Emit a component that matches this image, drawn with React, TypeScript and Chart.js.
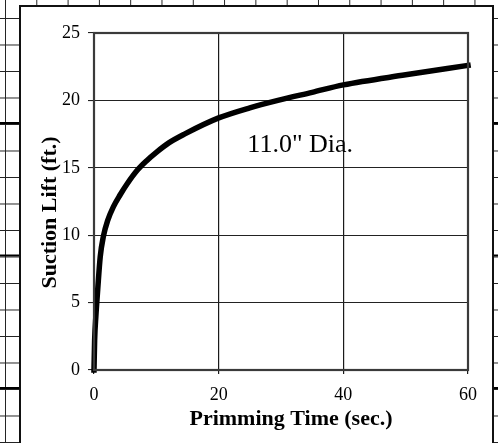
import React, { useEffect, useRef } from "react";
import { Chart, registerables } from "chart.js";

Chart.register(...registerables);

// ---- data ----
const primingTime: number[] = [0, 0.1, 0.3, 0.6, 1.0, 1.5, 2.2, 3.1, 4.2, 5.3, 7, 8.5, 10, 12, 14.5, 20, 25, 29.5, 35, 40, 50, 60];
const suctionLift: number[] = [0, 2.2, 4.0, 6.0, 8.4, 9.9, 11.1, 12.1, 13.0, 13.8, 14.85, 15.55, 16.15, 16.85, 17.5, 18.7, 19.45, 20, 20.6, 21.15, 21.9, 22.6];

const xTickValues: number[] = [0, 20, 40, 60];
const yTickValues: number[] = [0, 5, 10, 15, 20, 25];

const xTitle = "Primming Time (sec.)";
const yTitle = "Suction Lift (ft.)";
const annotationText = "11.0\" Dia.";
const annotationAt = { x: 24.6, y: 16.15 };

const FONT = "'Liberation Serif', 'Times New Roman', serif";

const decorPlugin = {
  id: "decor",
  afterDraw(chart: any) {
    const { ctx, chartArea, scales } = chart;
    const { left, right, top, bottom } = chartArea;
    ctx.save();
    // plot border
    ctx.strokeStyle = "#3a3a3a";
    ctx.lineWidth = 2.2;
    ctx.strokeRect(left, top, right - left, bottom - top);

    ctx.fillStyle = "#000";
    // x title
    ctx.font = `bold 22px ${FONT}`;
    ctx.textAlign = "center";
    ctx.textBaseline = "alphabetic";
    ctx.fillText(xTitle, (left + right) / 2 + 10, bottom + 55);
    // y title
    ctx.save();
    ctx.translate(left - 38, (top + bottom) / 2 + 11);
    ctx.rotate(-Math.PI / 2);
    ctx.fillText(yTitle, 0, 0);
    ctx.restore();
    // annotation
    ctx.font = `26px ${FONT}`;
    ctx.textAlign = "left";
    ctx.fillText(
      annotationText,
      scales.x.getPixelForValue(annotationAt.x),
      scales.y.getPixelForValue(annotationAt.y)
    );
    ctx.restore();
  },
};

export default function App() {
  const canvasRef = useRef<HTMLCanvasElement | null>(null);

  useEffect(() => {
    if (!canvasRef.current) return;
    const chart = new Chart(canvasRef.current, {
      type: "line",
      data: {
        datasets: [
          {
            data: primingTime.map((t, i) => ({ x: t, y: suctionLift[i] })),
            borderColor: "#000",
            borderWidth: 5.5,
            pointRadius: 0,
            cubicInterpolationMode: "monotone",
            borderCapStyle: "square",
            borderJoinStyle: "round",
            clip: false,
          } as any,
        ],
      },
      options: {
        animation: false,
        responsive: false,
        devicePixelRatio: 1,
        layout: { padding: { top: 33, right: 30, left: 0, bottom: 0 } },
        plugins: { legend: { display: false }, tooltip: { enabled: false } },
        scales: {
          x: {
            type: "linear",
            min: 0,
            max: 60,
            afterBuildTicks: (s: any) => {
              s.ticks = xTickValues.map((v) => ({ value: v }));
            },
            afterFit: (s: any) => {
              s.height = 73;
            },
            ticks: { font: { family: FONT, size: 18 }, color: "#000", padding: 10, maxRotation: 0 },
            grid: { color: "#1a1a1a", lineWidth: 1.2, tickLength: 4 },
            border: { display: false },
          },
          y: {
            type: "linear",
            min: 0,
            max: 25,
            afterBuildTicks: (s: any) => {
              s.ticks = yTickValues.map((v) => ({ value: v }));
            },
            afterFit: (s: any) => {
              s.width = 94;
            },
            ticks: { font: { family: FONT, size: 18 }, color: "#000", padding: 8 },
            grid: { color: "#222", lineWidth: 1.1, tickLength: 6 },
            border: { display: false },
          },
        },
      },
      plugins: [decorPlugin],
    });
    return () => chart.destroy();
  }, []);

  const paper: React.CSSProperties = {
    position: "fixed",
    left: 0,
    top: 0,
    width: 498,
    height: 443,
    overflow: "hidden",
    backgroundColor: "#fff",
    backgroundImage: [
      "linear-gradient(to bottom, #000 0px, #000 2px, transparent 2px, transparent 100%)",
      "linear-gradient(to right, #222 0px, #222 1px, transparent 1px, transparent 100%)",
      "linear-gradient(to bottom, #222 0px, #222 1px, transparent 1px, transparent 100%)",
    ].join(","),
    backgroundSize: "100% 132.5px, 31.3px 100%, 100% 26.5px",
    backgroundPosition: "0px 122px, 5px 0px, 0px 18px",
    backgroundRepeat: "repeat",
  };

  const panel: React.CSSProperties = {
    position: "absolute",
    left: 19,
    top: 5,
    width: 471,
    height: 450,
    background: "#fff",
    borderLeft: "2px solid #111",
    borderTop: "2px solid #111",
    borderRight: "2px solid #111",
  };

  return (
    <div style={paper}>
      <div style={panel} />
      <canvas
        ref={canvasRef}
        width={498}
        height={443}
        style={{ position: "absolute", left: 0, top: 0, width: 498, height: 443 }}
      />
    </div>
  );
}
